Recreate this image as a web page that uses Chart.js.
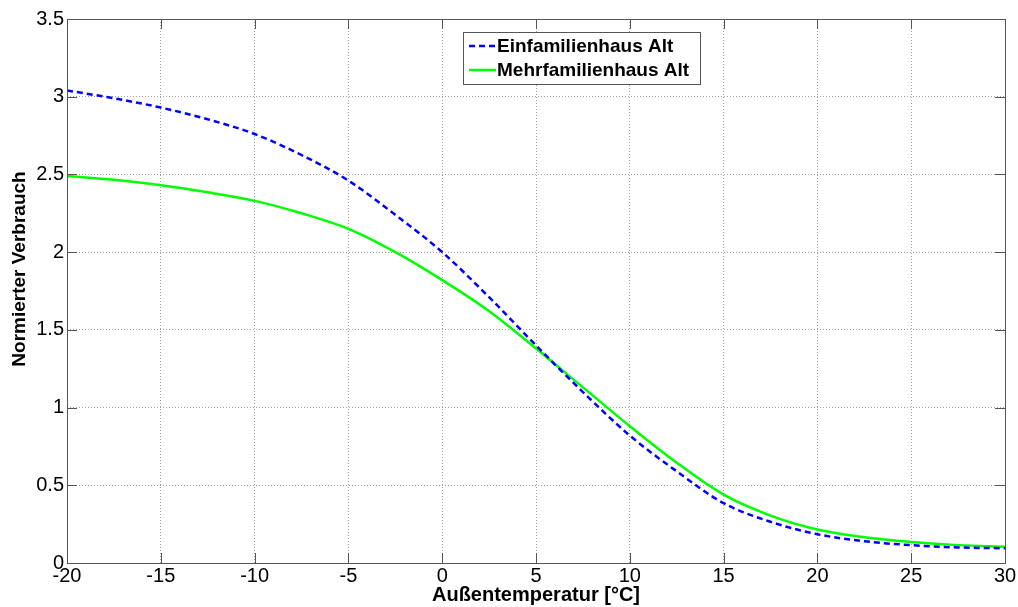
<!DOCTYPE html>
<html>
<head>
<meta charset="utf-8">
<script src="https://cdn.jsdelivr.net/npm/chart.js@4"></script>
<style>
  html, body { margin: 0; padding: 0; background: #fff; }
  #wrap { width: 1018px; height: 607px; }
</style>
</head>
<body>
<div id="wrap"><canvas id="chart" width="1018" height="607"></canvas></div>
<script>
// === DATA ===
const temps = [-20, -17.5, -15, -12.5, -10, -7.5, -5, -2.5, 0, 2.5, 5, 7.5, 10, 12.5, 15, 17.5, 20, 22.5, 25, 27.5, 30];
const einfamilien = [3.04, 2.99, 2.93, 2.855, 2.76, 2.625, 2.46, 2.24, 2.0, 1.71, 1.40, 1.10, 0.82, 0.59, 0.385, 0.265, 0.185, 0.14, 0.115, 0.10, 0.095];
const mehrfamilien = [2.49, 2.465, 2.43, 2.385, 2.33, 2.25, 2.15, 2.0, 1.82, 1.62, 1.38, 1.13, 0.88, 0.645, 0.44, 0.305, 0.215, 0.165, 0.135, 0.115, 0.105];
const xTicks = [-20, -15, -10, -5, 0, 5, 10, 15, 20, 25, 30];
const yTicks = [0, 0.5, 1, 1.5, 2, 2.5, 3, 3.5];
const yTitle = "Normierter Verbrauch";

const FONT = "'Liberation Sans', Arial, sans-serif";
const toPoints = arr => temps.map((t, i) => ({ x: t, y: arr[i] }));

// frame + inner tick marks + y title, matlab style
const framePlugin = {
  id: "frame",
  afterDraw(chart) {
    const { ctx, chartArea: a, scales } = chart;
    ctx.save();
    ctx.strokeStyle = "#555";
    ctx.lineWidth = 1;
    ctx.strokeRect(a.left + 0.5, a.top + 0.5, a.right - a.left, a.bottom - a.top);
    ctx.beginPath();
    xTicks.forEach(v => {
      const x = Math.round(scales.x.getPixelForValue(v)) + 0.5;
      ctx.moveTo(x, a.bottom); ctx.lineTo(x, a.bottom - 10);
      ctx.moveTo(x, a.top); ctx.lineTo(x, a.top + 10);
    });
    yTicks.forEach(v => {
      const y = Math.round(scales.y.getPixelForValue(v)) + 0.5;
      ctx.moveTo(a.left, y); ctx.lineTo(a.left + 10, y);
      ctx.moveTo(a.right, y); ctx.lineTo(a.right - 10, y);
    });
    ctx.stroke();

    // y title (sits a bit above the axis centre in the original)
    ctx.translate(20, 269);
    ctx.rotate(-Math.PI / 2);
    ctx.font = "bold 19px " + FONT;
    ctx.fillStyle = "#000";
    ctx.textAlign = "center";
    ctx.textBaseline = "middle";
    ctx.fillText(yTitle, 0, 0);
    ctx.restore();
  }
};

// legend box inside the plot
const legendPlugin = {
  id: "boxLegend",
  afterDraw(chart) {
    const { ctx } = chart;
    const x0 = 463, y0 = 32, w = 237, h = 52;
    ctx.save();
    ctx.fillStyle = "#fff";
    ctx.fillRect(x0, y0, w, h);
    ctx.strokeStyle = "#555";
    ctx.lineWidth = 1;
    ctx.strokeRect(x0 + 0.5, y0 + 0.5, w, h);
    ctx.font = "bold 19px " + FONT;
    ctx.textBaseline = "middle";
    chart.data.datasets.forEach((ds, i) => {
      const y = y0 + 14 + i * 24;
      ctx.beginPath();
      ctx.strokeStyle = ds.borderColor;
      ctx.lineWidth = 2.5;
      ctx.setLineDash(ds.borderDash || []);
      ctx.moveTo(x0 + 6, y); ctx.lineTo(x0 + 33, y);
      ctx.stroke();
      ctx.setLineDash([]);
      ctx.fillStyle = "#000";
      ctx.fillText(ds.label, x0 + 34, y + 1);
    });
    ctx.restore();
  }
};

const tickFont = { family: FONT, size: 20 };

new Chart(document.getElementById("chart"), {
  type: "line",
  data: {
    datasets: [
      {
        label: "Einfamilienhaus Alt",
        data: toPoints(einfamilien),
        borderColor: "#0000ff",
        borderWidth: 2.5,
        borderDash: [6, 4],
        pointRadius: 0,
        cubicInterpolationMode: "monotone",
        fill: false
      },
      {
        label: "Mehrfamilienhaus Alt",
        data: toPoints(mehrfamilien),
        borderColor: "#00ff00",
        borderWidth: 2.5,
        pointRadius: 0,
        cubicInterpolationMode: "monotone",
        fill: false
      }
    ]
  },
  options: {
    responsive: false,
    animation: false,
    layout: { padding: { top: 19, right: 13, left: 0, bottom: 0 } },
    plugins: { legend: { display: false }, tooltip: { enabled: false } },
    scales: {
      x: {
        type: "linear",
        min: -20, max: 30,
        afterBuildTicks: s => { s.ticks = xTicks.map(v => ({ value: v })); },
        afterFit: s => { s.height = 44; },
        ticks: { color: "#000", font: tickFont, padding: 1, maxRotation: 0, callback: v => String(v) },
        grid: { color: "#a0a0a0", drawTicks: false },
        border: { display: false, dash: [1, 2] },
        title: { display: true, text: "Außentemperatur [°C]", color: "#000", font: { family: FONT, size: 20, weight: "bold" }, padding: { top: 0, bottom: 0 } }
      },
      y: {
        min: 0, max: 3.5,
        afterBuildTicks: s => { s.ticks = yTicks.map(v => ({ value: v })); },
        afterFit: s => { s.width = 67; },
        ticks: { color: "#000", font: tickFont, padding: 3, callback: v => String(v) },
        grid: { color: "#a0a0a0", drawTicks: false },
        border: { display: false, dash: [1, 2] }
      }
    }
  },
  plugins: [framePlugin, legendPlugin]
});
</script>
</body>
</html>
